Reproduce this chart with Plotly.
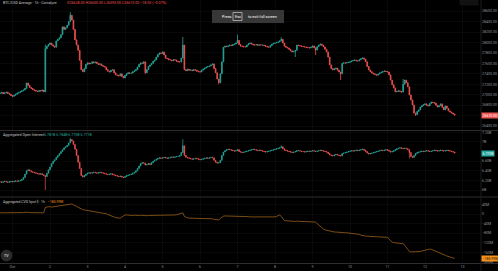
import plotly.graph_objects as go
import pandas as pd

# ---------------- data ----------------
start_time = "2023-09-30 16:00"
n_candles = 292

price_close = [
    27030, 27045, 27020, 27035, 27050, 27025, 27010, 26985, 26970, 26990, 27010, 27030,
    27045, 27060, 27075, 27090, 27120, 27225, 27180, 27140, 27120, 27095, 27085, 27070,
    27060, 27080, 27070, 27090, 27055, 27880, 27930, 27960, 27990, 27955, 27930, 27910,
    28030, 28060, 28090, 28150, 28300, 28250, 28280, 28330, 28400, 28520, 28430, 28250,
    28050, 27950, 27850, 27660, 27480, 27440, 27500, 27580, 27610, 27590, 27600, 27630,
    27610, 27625, 27600, 27580, 27590, 27560, 27545, 27530, 27480, 27450, 27435, 27470,
    27480, 27420, 27380, 27370, 27360, 27400, 27350, 27320, 27370, 27400, 27420, 27410,
    27415, 27440, 27460, 27480, 27530, 27580, 27610, 27600, 27630, 27420, 27480, 27540,
    27570, 27600, 27640, 27665, 27720, 27770, 27800, 27790, 27820, 27760, 27700, 27690,
    27670, 27665, 27650, 27670, 27665, 27640, 27630, 27625, 27700, 27950, 27480, 27460,
    27490, 27470, 27475, 27460, 27480, 27470, 27450, 27440, 27435, 27470, 27490, 27510,
    27530, 27540, 27550, 27570, 27590, 27500, 27420, 27300, 27230, 27400, 27630, 27910,
    27930, 27920, 27935, 27950, 27940, 27960, 27970, 27990, 28040, 27960, 27930, 27925,
    27915, 27915, 27950, 27975, 27990, 27970, 27955, 27950, 27960, 27945, 27955, 27950,
    27952, 27940, 27930, 27915, 27910, 27940, 27970, 27985, 27990, 28000, 28010, 28030,
    28060, 27990, 27930, 27910, 27895, 27870, 27840, 27820, 27830, 27850, 27950, 27940,
    27935, 27925, 27920, 27915, 27905, 27900, 27895, 27910, 27935, 27900, 27855, 27920,
    27950, 27970, 27945, 27915, 27870, 27820, 27720, 27570, 27500, 27475, 27495, 27510,
    27470, 27435, 27400, 27600, 27610, 27605, 27615, 27620, 27630, 27645, 27655, 27665,
    27650, 27645, 27670, 27690, 27705, 27680, 27630, 27540, 27475, 27440, 27415, 27400,
    27385, 27375, 27395, 27415, 27430, 27445, 27455, 27445, 27435, 27380, 27280, 27190,
    27130, 27055, 27065, 27075, 27060, 27050, 27200, 27280, 27230, 27150, 26995, 26900,
    26805, 26650, 26620, 26680, 26710, 26765, 26790, 26810, 26825, 26800, 26785, 26830,
    26860, 26850, 26840, 26800, 26765, 26790, 26825, 26760, 26710, 26785, 26740, 26690,
    26670, 26650, 26630, 26610,
]
price_first_open = 27020
price_high_wicks = {29: 27960, 45: 28580, 117: 28105, 152: 28150, 180: 28100, 258: 27300}
price_low_wicks = {8: 26950, 93: 27400, 140: 27200, 189: 27722, 202: 27760, 218: 27282, 266: 26593}

oi_close = [
    6.17, 6.16, 6.17, 6.18, 6.17, 6.16, 6.17, 6.18, 6.17, 6.18, 6.19, 6.18,
    6.19, 6.20, 6.22, 6.26, 6.33, 6.40, 6.42, 6.40, 6.38, 6.37, 6.36, 6.35,
    6.34, 6.33, 6.34, 6.32, 6.30, 6.28, 6.35, 6.42, 6.48, 6.55, 6.60, 6.63,
    6.68, 6.72, 6.76, 6.80, 6.84, 6.88, 6.90, 6.93, 6.98, 7.05, 7.02, 6.95,
    6.85, 6.72, 6.58, 6.45, 6.30, 6.27, 6.30, 6.33, 6.35, 6.36, 6.35, 6.36,
    6.37, 6.36, 6.35, 6.36, 6.37, 6.36, 6.35, 6.34, 6.33, 6.32, 6.33, 6.34,
    6.32, 6.31, 6.30, 6.29, 6.28, 6.29, 6.27, 6.26, 6.28, 6.30, 6.31, 6.32,
    6.33, 6.35, 6.37, 6.40, 6.45, 6.50, 6.55, 6.57, 6.56, 6.52, 6.53, 6.55,
    6.53, 6.57, 6.60, 6.62, 6.64, 6.66, 6.67, 6.66, 6.67, 6.68, 6.67, 6.66,
    6.67, 6.68, 6.69, 6.68, 6.69, 6.70, 6.70, 6.72, 6.78, 6.92, 6.72, 6.68,
    6.67, 6.66, 6.65, 6.64, 6.65, 6.66, 6.65, 6.64, 6.63, 6.64, 6.65, 6.66,
    6.67, 6.66, 6.67, 6.68, 6.67, 6.62, 6.58, 6.56, 6.57, 6.62, 6.72, 6.79,
    6.82, 6.84, 6.85, 6.84, 6.83, 6.82, 6.81, 6.82, 6.84, 6.80, 6.79, 6.78,
    6.79, 6.80, 6.81, 6.82, 6.83, 6.84, 6.85, 6.84, 6.83, 6.82, 6.83, 6.82,
    6.81, 6.80, 6.79, 6.80, 6.81, 6.82, 6.83, 6.84, 6.85, 6.86, 6.87, 6.88,
    6.90, 6.86, 6.83, 6.82, 6.81, 6.80, 6.79, 6.78, 6.79, 6.80, 6.82, 6.82,
    6.81, 6.80, 6.80, 6.79, 6.80, 6.81, 6.80, 6.81, 6.82, 6.81, 6.80, 6.81,
    6.82, 6.83, 6.82, 6.81, 6.80, 6.79, 6.76, 6.73, 6.72, 6.71, 6.73, 6.74,
    6.73, 6.72, 6.71, 6.76, 6.77, 6.78, 6.79, 6.80, 6.81, 6.82, 6.81, 6.82,
    6.83, 6.82, 6.83, 6.84, 6.85, 6.83, 6.80, 6.77, 6.75, 6.76, 6.77, 6.78,
    6.79, 6.80, 6.81, 6.82, 6.83, 6.82, 6.83, 6.84, 6.83, 6.81, 6.79, 6.80,
    6.82, 6.84, 6.86, 6.87, 6.88, 6.87, 6.86, 6.87, 6.86, 6.84, 6.78, 6.70,
    6.68, 6.72, 6.76, 6.78, 6.79, 6.80, 6.81, 6.80, 6.81, 6.82, 6.81, 6.80,
    6.81, 6.82, 6.83, 6.82, 6.81, 6.82, 6.83, 6.82, 6.81, 6.82, 6.83, 6.82,
    6.81, 6.80, 6.79, 6.77,
]
oi_first_open = 6.17
oi_high_wicks = {45: 7.09, 117: 7.06, 180: 6.93}
oi_low_wicks = {29: 6.00, 262: 6.66}

cvd_values = [
    5, 5, 4, 5, 6, 5, 4, 4, 3, 4, 5, 5, 5, 6, 6, 6, 7, 8, 7, 6, 6, 5, 5, 5,
    5, 5, 6, 6, 5, 28, 30, 32, 31, 29, 30, 32, 34, 35, 36, 36, 37, 38, 38, 39, 41, 43, 42, 38,
    36, 32, 28, 24, 20, 18, 17, 16, 15, 14, 13, 13, 12, 10, 9, 8, 7, 6, 5, 3, 1, -2, -5, -8,
    -11, -13, -15, -16, -17, -17, -12, -7, -4, -4, -5, -4, -5, -6, -5, -6, -5, -6, -5, -6, -5, -8, -7, -6,
    -6, -6, -5, -5, -6, -6, -5, -6, -6, -7, -7, -6, -6, -7, -6, -5, -4, -3, -1, 1, 3, 5, -10, -14,
    -16, -17, -17, -18, -17, -17, -18, -18, -17, -17, -18, -17, -17, -18, -18, -19, -20, -22, -24, -26, -25, -18, -12, -9,
    -8, -8, -9, -8, -8, -9, -9, -8, -8, -9, -9, -10, -10, -10, -11, -11, -12, -12, -12, -13, -13, -13, -12, -13,
    -13, -13, -14, -13, -13, -14, -14, -13, -12, -10, -7, -4, -10, -20, -27, -28, -29, -29, -30, -30, -30, -31, -30, -30,
    -30, -31, -31, -31, -31, -32, -32, -32, -33, -33, -34, -40, -47, -54, -59, -63, -66, -68, -70, -72, -73, -74, -75, -75,
    -76, -76, -77, -77, -78, -78, -78, -79, -79, -80, -80, -81, -81, -82, -85, -88, -90, -91, -92, -92, -93, -93, -94, -94,
    -94, -95, -95, -95, -96, -96, -96, -96, -97, -104, -112, -117, -119, -120, -120, -121, -121, -122, -124, -130, -140, -150, -156, -158,
    -158, -159, -158, -157, -157, -156, -154, -152, -150, -148, -147, -146, -147, -149, -152, -155, -158, -161, -163, -166, -169, -172, -175, -177,
    -179, -181, -183, -185,
]

price_ticks = [26400, 26600, 26800, 27000, 27200, 27400, 27600, 27800, 28000, 28200, 28400, 28600, 28800]
oi_ticks = [6.0, 6.2, 6.4, 6.6, 7.0, 7.2]
oi_tick_text = ["6B", "6.20B", "6.40B", "6.60B", "7B", "7.20B"]
cvd_ticks = [-200, -160, -120, -80, -40, 0, 40]
cvd_tick_text = ["−200M", "−160M", "−120M", "−80M", "−40M", "0", "40M"]
day_ticks = pd.date_range("2023-10-01", "2023-10-13", freq="D")
day_tick_text = ["Oct", "2", "3", "4", "5", "6", "7", "8", "9", "10", "11", "12", "13"]

price_title = "BTC/USD Average · 1h · Coinalyze"
price_ohlc_text = "O26628.00 H26650.00 L26593.00 C26610.00 −18.00 (−0.07%)"
oi_title = "Aggregated Open Interest"
oi_values_text = "6.781B 6.784B 6.770B 6.771B"
cvd_title = "Aggregated CVD Spot $ · 1h"
cvd_value_text = "−185.99M"

# ---------------- derived ----------------
times = pd.date_range(start_time, periods=n_candles, freq="h")
p_open = [price_first_open] + price_close[:-1]
p_high = [max(o, c) for o, c in zip(p_open, price_close)]
p_low = [min(o, c) for o, c in zip(p_open, price_close)]
for k, v in price_high_wicks.items():
    p_high[k] = max(p_high[k], v)
for k, v in price_low_wicks.items():
    p_low[k] = min(p_low[k], v)

o_open = [oi_first_open] + oi_close[:-1]
o_high = [max(o, c) for o, c in zip(o_open, oi_close)]
o_low = [min(o, c) for o, c in zip(o_open, oi_close)]
for k, v in oi_high_wicks.items():
    o_high[k] = max(o_high[k], v)
for k, v in oi_low_wicks.items():
    o_low[k] = min(o_low[k], v)

# ---------------- layout geometry ----------------
W, H = 498, 271
ML, MR, MT, MB = 0, 17, 0, 8
PW, PH = W - ML - MR, H - MT - MB

def px_x(px):
    return (px - ML) / PW

def px_y(py):
    return 1 - (py - MT) / PH

UP = "#26a69a"
DOWN = "#ef5350"
ORANGE = "#f7931a"
TXT = "#8f929b"
FONT = "Roboto"
BG = "#000000"

x_start = pd.Timestamp(start_time)
x_end = x_start + pd.Timedelta(hours=481 / 1.5625)

fig = go.Figure()
fig.add_trace(go.Candlestick(
    x=times, open=p_open, high=p_high, low=p_low, close=price_close,
    increasing=dict(line=dict(color=UP, width=0.8), fillcolor=UP),
    decreasing=dict(line=dict(color=DOWN, width=0.8), fillcolor=DOWN),
    xaxis="x", yaxis="y", showlegend=False, name="BTC/USD",
))
fig.add_trace(go.Candlestick(
    x=times, open=o_open, high=o_high, low=o_low, close=oi_close,
    increasing=dict(line=dict(color=UP, width=0.7), fillcolor=UP),
    decreasing=dict(line=dict(color=DOWN, width=0.7), fillcolor=DOWN),
    xaxis="x2", yaxis="y2", showlegend=False, name="OI",
))
fig.add_trace(go.Scatter(
    x=times, y=cvd_values, mode="lines", line=dict(color="#9a5f18", width=0.8),
    xaxis="x3", yaxis="y3", showlegend=False, name="CVD",
))

grid = "rgba(255,255,255,0.03)"
common_x = dict(range=[x_start, x_end], showgrid=True, gridcolor=grid, zeroline=False,
                tickvals=list(day_ticks), showline=False, rangeslider=dict(visible=False),
                fixedrange=True)
ax_font = dict(family=FONT, size=3.6, color=TXT)

fig.update_layout(
    width=W, height=H,
    margin=dict(l=ML, r=MR, t=MT, b=MB),
    paper_bgcolor=BG, plot_bgcolor=BG,
    font=dict(family=FONT, color=TXT),
    xaxis=dict(common_x, anchor="y", showticklabels=False),
    xaxis2=dict(common_x, anchor="y2", matches="x", showticklabels=False),
    xaxis3=dict(common_x, anchor="y3", matches="x", showticklabels=True,
                ticktext=day_tick_text, tickfont=ax_font, ticks="", ticklabelstandoff=0),
    yaxis=dict(domain=[px_y(130), 1], range=[26325, 28813], side="right",
               tickvals=price_ticks, ticktext=[f"{v:.2f}" for v in price_ticks],
               tickfont=ax_font, showgrid=True, gridcolor=grid, zeroline=False, ticks=""),
    yaxis2=dict(domain=[px_y(196), px_y(131)], range=[5.875, 7.229], side="right",
                tickvals=oi_ticks, ticktext=oi_tick_text, tickfont=ax_font,
                showgrid=True, gridcolor=grid, zeroline=False, ticks=""),
    yaxis3=dict(domain=[0, px_y(198)], range=[-204, 66.7], side="right",
                tickvals=cvd_ticks, ticktext=cvd_tick_text, tickfont=ax_font,
                showgrid=True, gridcolor=grid, zeroline=False, ticks=""),
)

shapes = []
sep = "#2e2e2e"
for py in (130.5, 197):
    shapes.append(dict(type="line", xref="paper", yref="paper", x0=0, x1=px_x(W), y0=px_y(py), y1=px_y(py),
                       line=dict(color=sep, width=1)))
shapes.append(dict(type="line", xref="paper", yref="paper", x0=0, x1=px_x(W), y0=px_y(263.5), y1=px_y(263.5),
                   line=dict(color=sep, width=1)))
shapes.append(dict(type="line", xref="paper", yref="paper", x0=1, x1=1, y0=px_y(271), y1=1,
                   line=dict(color="#1c1c1c", width=1)))
# full-screen overlay
shapes.append(dict(type="rect", xref="paper", yref="paper", x0=px_x(212), x1=px_x(284), y0=px_y(23), y1=px_y(10),
                   fillcolor="rgba(58,58,58,0.95)", line=dict(width=0), layer="above"))
shapes.append(dict(type="rect", xref="paper", yref="paper", x0=px_x(233), x1=px_x(242), y0=px_y(20.5), y1=px_y(12.5),
                   fillcolor="rgba(0,0,0,0)", line=dict(color="#cfcfcf", width=0.7), layer="above"))
# top-right toolbar
shapes.append(dict(type="rect", xref="paper", yref="paper", x0=px_x(460), x1=px_x(478), y0=px_y(5), y1=px_y(0),
                   fillcolor="#111111", line=dict(color="#1e1e1e", width=0.5)))
# TradingView logo
shapes.append(dict(type="circle", xref="paper", yref="paper", x0=px_x(1), x1=px_x(12), y0=px_y(261), y1=px_y(250),
                   fillcolor="#2b2b2b", line=dict(color="#3a3a3a", width=0.5)))
fig.update_layout(shapes=shapes)

ann = []
def txt(px, py, text, color=TXT, size=3.6, xanchor="left"):
    ann.append(dict(xref="paper", yref="paper", x=px_x(px), y=px_y(py), text=text, showarrow=False,
                    xanchor=xanchor, yanchor="middle", font=dict(family=FONT, size=size, color=color)))

txt(1, 3.5, price_title, color="#c8c8c8")
txt(65, 3.5, price_ohlc_text, color=DOWN)
txt(1, 135, oi_title, color="#c8c8c8")
txt(42, 135, oi_values_text, color=UP)
txt(1, 201.5, cvd_title, color="#c8c8c8", size=3.4)
txt(46, 201.5, cvd_value_text, color=ORANGE, size=3.4)
txt(227, 16.5, "Press", color="#ffffff", size=3.8, xanchor="center")
txt(237.5, 16.5, "Esc", color="#ffffff", size=3.8, xanchor="center")
txt(262.5, 16.5, "to exit full screen", color="#ffffff", size=3.8, xanchor="center")
txt(6.5, 255.5, "TV", color="#ffffff", size=3.6, xanchor="center")

# last value labels on the axes
for yref, val, text, bg in (("y", price_close[-1], f"{price_close[-1]:.2f}", DOWN),
                            ("y2", oi_close[-1], f"{oi_close[-1]:.3f}B", UP),
                            ("y3", cvd_values[-1], cvd_value_text, ORANGE)):
    ann.append(dict(xref="paper", yref=yref, x=1.0, y=val, text=text, showarrow=False,
                    xanchor="left", yanchor="middle", bgcolor=bg, borderpad=0.5,
                    font=dict(family=FONT, size=3.5, color="#ffffff" if bg != ORANGE else "#111111")))
fig.update_layout(annotations=ann)

fig.write_html("out.html")
